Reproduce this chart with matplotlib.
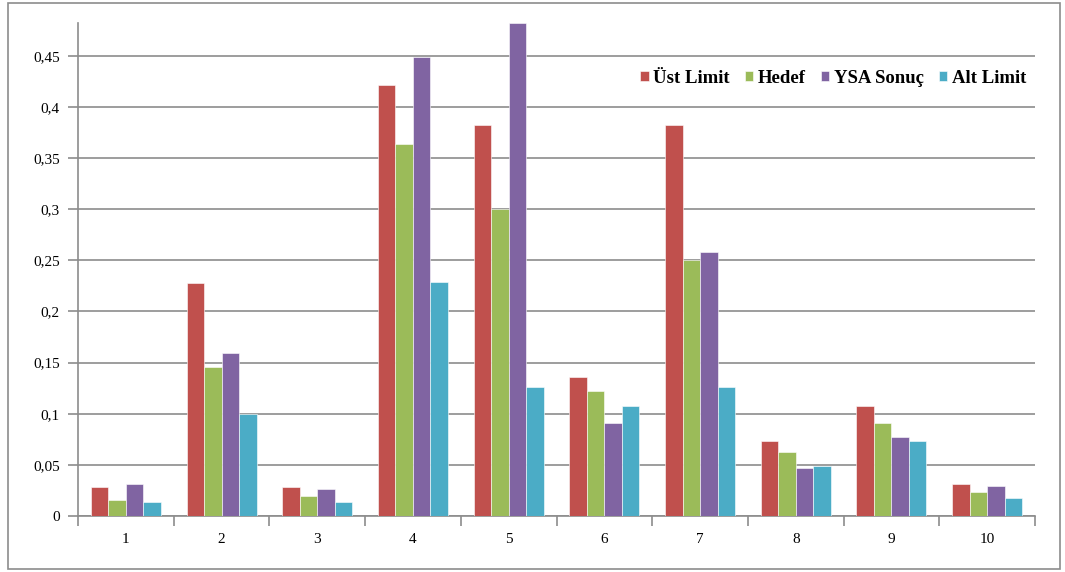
"""
Grouped bar chart: Üst Limit / Hedef / YSA Sonuç / Alt Limit per sample
"""
import numpy as np
import matplotlib
matplotlib.use("Agg")
import matplotlib.pyplot as plt
from matplotlib.patches import Rectangle
from matplotlib.ticker import FixedLocator, FuncFormatter

plt.rcParams["font.family"] = ["Liberation Serif", "DejaVu Serif"]

categories = ["1", "2", "3", "4", "5", "6", "7", "8", "9", "10"]
ust_limit = [0.028, 0.228, 0.028, 0.421, 0.382, 0.136, 0.382, 0.073, 0.108, 0.031]
hedef     = [0.016, 0.146, 0.020, 0.364, 0.300, 0.122, 0.250, 0.063, 0.091, 0.023]
ysa_sonuc = [0.031, 0.159, 0.026, 0.449, 0.482, 0.091, 0.258, 0.047, 0.077, 0.029]
alt_limit = [0.014, 0.100, 0.014, 0.229, 0.126, 0.108, 0.126, 0.049, 0.073, 0.018]

series = [
    ("Üst Limit", ust_limit, "#C0504D"),
    ("Hedef",     hedef,     "#9BBB59"),
    ("YSA Sonuç", ysa_sonuc, "#8064A2"),
    ("Alt Limit", alt_limit, "#4BACC6"),
]

fig = plt.figure(figsize=(10.65, 5.72), dpi=100)
ax = fig.add_axes([78 / 1065, 56 / 572, (1035 - 78) / 1065, (516 - 23) / 572])

# outer chart frame
fig.patches.append(Rectangle((8 / 1065, 3 / 572), 1052 / 1065, 566 / 572,
                             transform=fig.transFigure, fill=False,
                             edgecolor="#8c8c8c", lw=1.2))

x = np.arange(len(categories))
w = 0.183
for i, (lbl, vals, col) in enumerate(series):
    ax.bar(x + (i - 1.5) * w, vals, w, color=col, label=lbl,
           edgecolor="white", linewidth=0.4, zorder=3)

ax.set_xlim(-0.5, len(categories) - 0.5)
ax.set_ylim(0, 0.482)

yt = np.arange(0, 0.451, 0.05)
ax.set_yticks(yt)
ax.yaxis.set_major_formatter(FuncFormatter(
    lambda v, p: "0" if abs(v) < 1e-9 else f"{v:.2f}".rstrip("0").replace(".", ",")))
ax.grid(axis="y", color="#8c8c8c", lw=1.2, zorder=0)

ax.set_xticks(x)
ax.set_xticklabels(categories)
ax.xaxis.set_minor_locator(FixedLocator(np.arange(-0.5, len(categories), 1.0)))
ax.tick_params(axis="x", which="major", length=0, pad=12, labelsize=11)
ax.tick_params(axis="x", which="minor", length=7, width=1.2, color="#8c8c8c")
ax.tick_params(axis="y", length=7, width=1.2, color="#8c8c8c", pad=6, labelsize=11)

for s in ["top", "right"]:
    ax.spines[s].set_visible(False)
for s in ["left", "bottom"]:
    ax.spines[s].set_color("#8c8c8c")
    ax.spines[s].set_linewidth(1.2)

ax.legend(loc="center right", bbox_to_anchor=(0.999, 0.888), ncol=4, frameon=False,
          prop={"size": 13.5, "weight": "bold"}, handlelength=0.45, handleheight=0.45,
          handletextpad=0.25, columnspacing=0.8, borderaxespad=0)

fig.savefig("out.png", dpi=100)
